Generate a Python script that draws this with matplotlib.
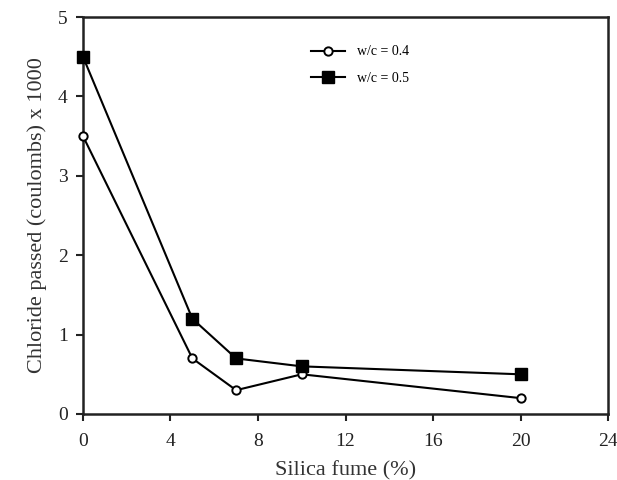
import matplotlib
matplotlib.use("Agg")
import matplotlib.pyplot as plt

silica_fume = [0, 5, 7, 10, 20]
wc04 = [3.5, 0.7, 0.3, 0.5, 0.2]
wc05 = [4.5, 1.2, 0.7, 0.6, 0.5]
x_ticks = [0, 4, 8, 12, 16, 20, 24]
y_ticks = [0, 1, 2, 3, 4, 5]

plt.rcParams['font.family'] = ['Liberation Serif', 'DejaVu Serif']

fig = plt.figure(figsize=(6.17, 4.8), dpi=100)
ax = fig.add_axes([0.1345, 0.1375, 0.851, 0.827])

ax.plot(silica_fume, wc04, color='black', lw=1.5, marker='o', markersize=6,
        markerfacecolor='white', markeredgecolor='black', markeredgewidth=1.4,
        label='w/c = 0.4', clip_on=False, zorder=3)
ax.plot(silica_fume, wc05, color='black', lw=1.5, marker='s', markersize=8,
        markerfacecolor='black', markeredgecolor='black', label='w/c = 0.5',
        clip_on=False, zorder=3)

ax.set_xlim(0, 24)
ax.set_ylim(0, 5)
ax.set_xticks(x_ticks)
ax.set_yticks(y_ticks)
ax.tick_params(direction='out', length=5, width=1.5, labelsize=14, colors='#222222')
ax.tick_params(axis='x', pad=9)
ax.tick_params(axis='y', pad=6)
for s in ax.spines.values():
    s.set_linewidth(1.8)
    s.set_color('#222222')

ax.set_xlabel('Silica fume (%)', fontsize=16, color='#333333', labelpad=8)
ax.set_ylabel('Chloride passed (coulombs) x 1000', fontsize=16, color='#333333', labelpad=8)

leg = ax.legend(loc='upper left', bbox_to_anchor=(0.41, 0.96), frameon=False,
                fontsize=10, handlelength=2.5, labelspacing=1.0)

fig.savefig('out.png', dpi=100)
